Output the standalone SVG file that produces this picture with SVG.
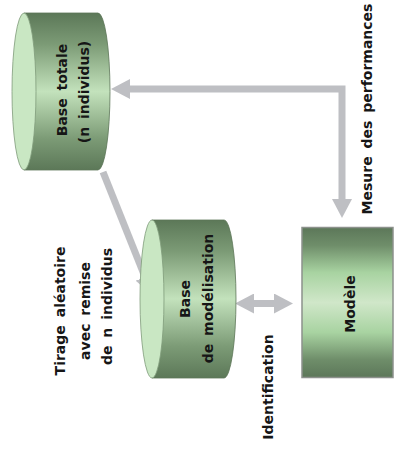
<svg xmlns="http://www.w3.org/2000/svg" width="395" height="454" viewBox="0 0 395 454">
  <style>
    .lbl { font-family: "DejaVu Sans", "Liberation Sans", sans-serif; font-weight: bold; font-size: 14px; word-spacing: 3px; fill: #161616; text-anchor: middle; }
    .body { fill: url(#bodyGrad); stroke: #5d7658; stroke-width: 0.8; }
    .face { fill: #c9e7c3; stroke: #7f9b7a; stroke-width: 0.8; }
    .box { fill: url(#boxGrad); stroke: #8c918c; stroke-width: 1.5; }
    .link { fill: none; stroke: #bebfc3; stroke-width: 7; }
    .head { fill: #bebfc3; }
  </style>
  <defs>
    <linearGradient id="bodyGrad" x1="0" y1="0" x2="0" y2="1">
      <stop offset="0" stop-color="#5c7858"/>
      <stop offset="0.2" stop-color="#7c9b76"/>
      <stop offset="0.5" stop-color="#c3e2bc"/>
      <stop offset="0.8" stop-color="#7c9b76"/>
      <stop offset="1" stop-color="#5c7858"/>
    </linearGradient>
    <linearGradient id="boxGrad" x1="0" y1="0" x2="0" y2="1">
      <stop offset="0" stop-color="#5c7759"/>
      <stop offset="0.12" stop-color="#6f8e6a"/>
      <stop offset="0.3" stop-color="#a8d3a1"/>
      <stop offset="0.5" stop-color="#d0e7c9"/>
      <stop offset="0.7" stop-color="#a8d3a1"/>
      <stop offset="0.88" stop-color="#6f8e6a"/>
      <stop offset="1" stop-color="#5c7759"/>
    </linearGradient>
    <marker id="tip" markerUnits="userSpaceOnUse" markerWidth="19" markerHeight="20" refX="0" refY="10" orient="auto-start-reverse" viewBox="0 0 19 20">
      <path class="head" d="M0,0 L19,10 L0,20 Z"/>
    </marker>
  </defs>

  <!-- connectors -->
  <g id="connectors">
    <!-- performance measure: model back to full base -->
    <polyline class="link" points="130,89 342,89 342,199" marker-start="url(#tip)" marker-end="url(#tip)"/>
    <!-- random draw with replacement -->
    <line class="link" x1="103" y1="172" x2="145" y2="277" marker-end="url(#tip)"/>
    <!-- identification -->
    <line class="link" x1="254" y1="303.5" x2="274" y2="303.5" marker-start="url(#tip)" marker-end="url(#tip)"/>
  </g>

  <!-- full database cylinder -->
  <g id="base-totale">
    <path class="body" d="M24,13 L98,13 A12,78.5 0 0 1 98,170 L24,170 Z"/>
    <ellipse class="face" cx="24" cy="91.5" rx="12" ry="78.5"/>
    <text class="lbl" transform="translate(67,90) rotate(-90)">Base totale</text>
    <text class="lbl" transform="translate(89,92) rotate(-90)">(n individus)</text>
  </g>

  <!-- modelling database cylinder -->
  <g id="base-modelisation">
    <path class="body" d="M152,220 L224,220 A12,79 0 0 1 224,378 L152,378 Z"/>
    <ellipse class="face" cx="152" cy="299" rx="12" ry="79"/>
    <text class="lbl" transform="translate(190,299) rotate(-90)">Base</text>
    <text class="lbl" transform="translate(213,298.5) rotate(-90)">de modélisation</text>
  </g>

  <!-- model box -->
  <g id="modele">
    <rect class="box" x="302" y="227.5" width="91" height="150"/>
    <text class="lbl" transform="translate(355,304) rotate(-90)">Modèle</text>
  </g>

  <!-- connector labels -->
  <g id="labels">
    <text class="lbl" transform="translate(372,109) rotate(-90)">Mesure des performances</text>
    <text class="lbl" transform="translate(273,387) rotate(-90)">Identification</text>
    <text class="lbl" transform="translate(65,311) rotate(-90)">Tirage aléatoire</text>
    <text class="lbl" transform="translate(90,311) rotate(-90)">avec remise</text>
    <text class="lbl" transform="translate(112,306.5) rotate(-90)">de n individus</text>
  </g>
</svg>
